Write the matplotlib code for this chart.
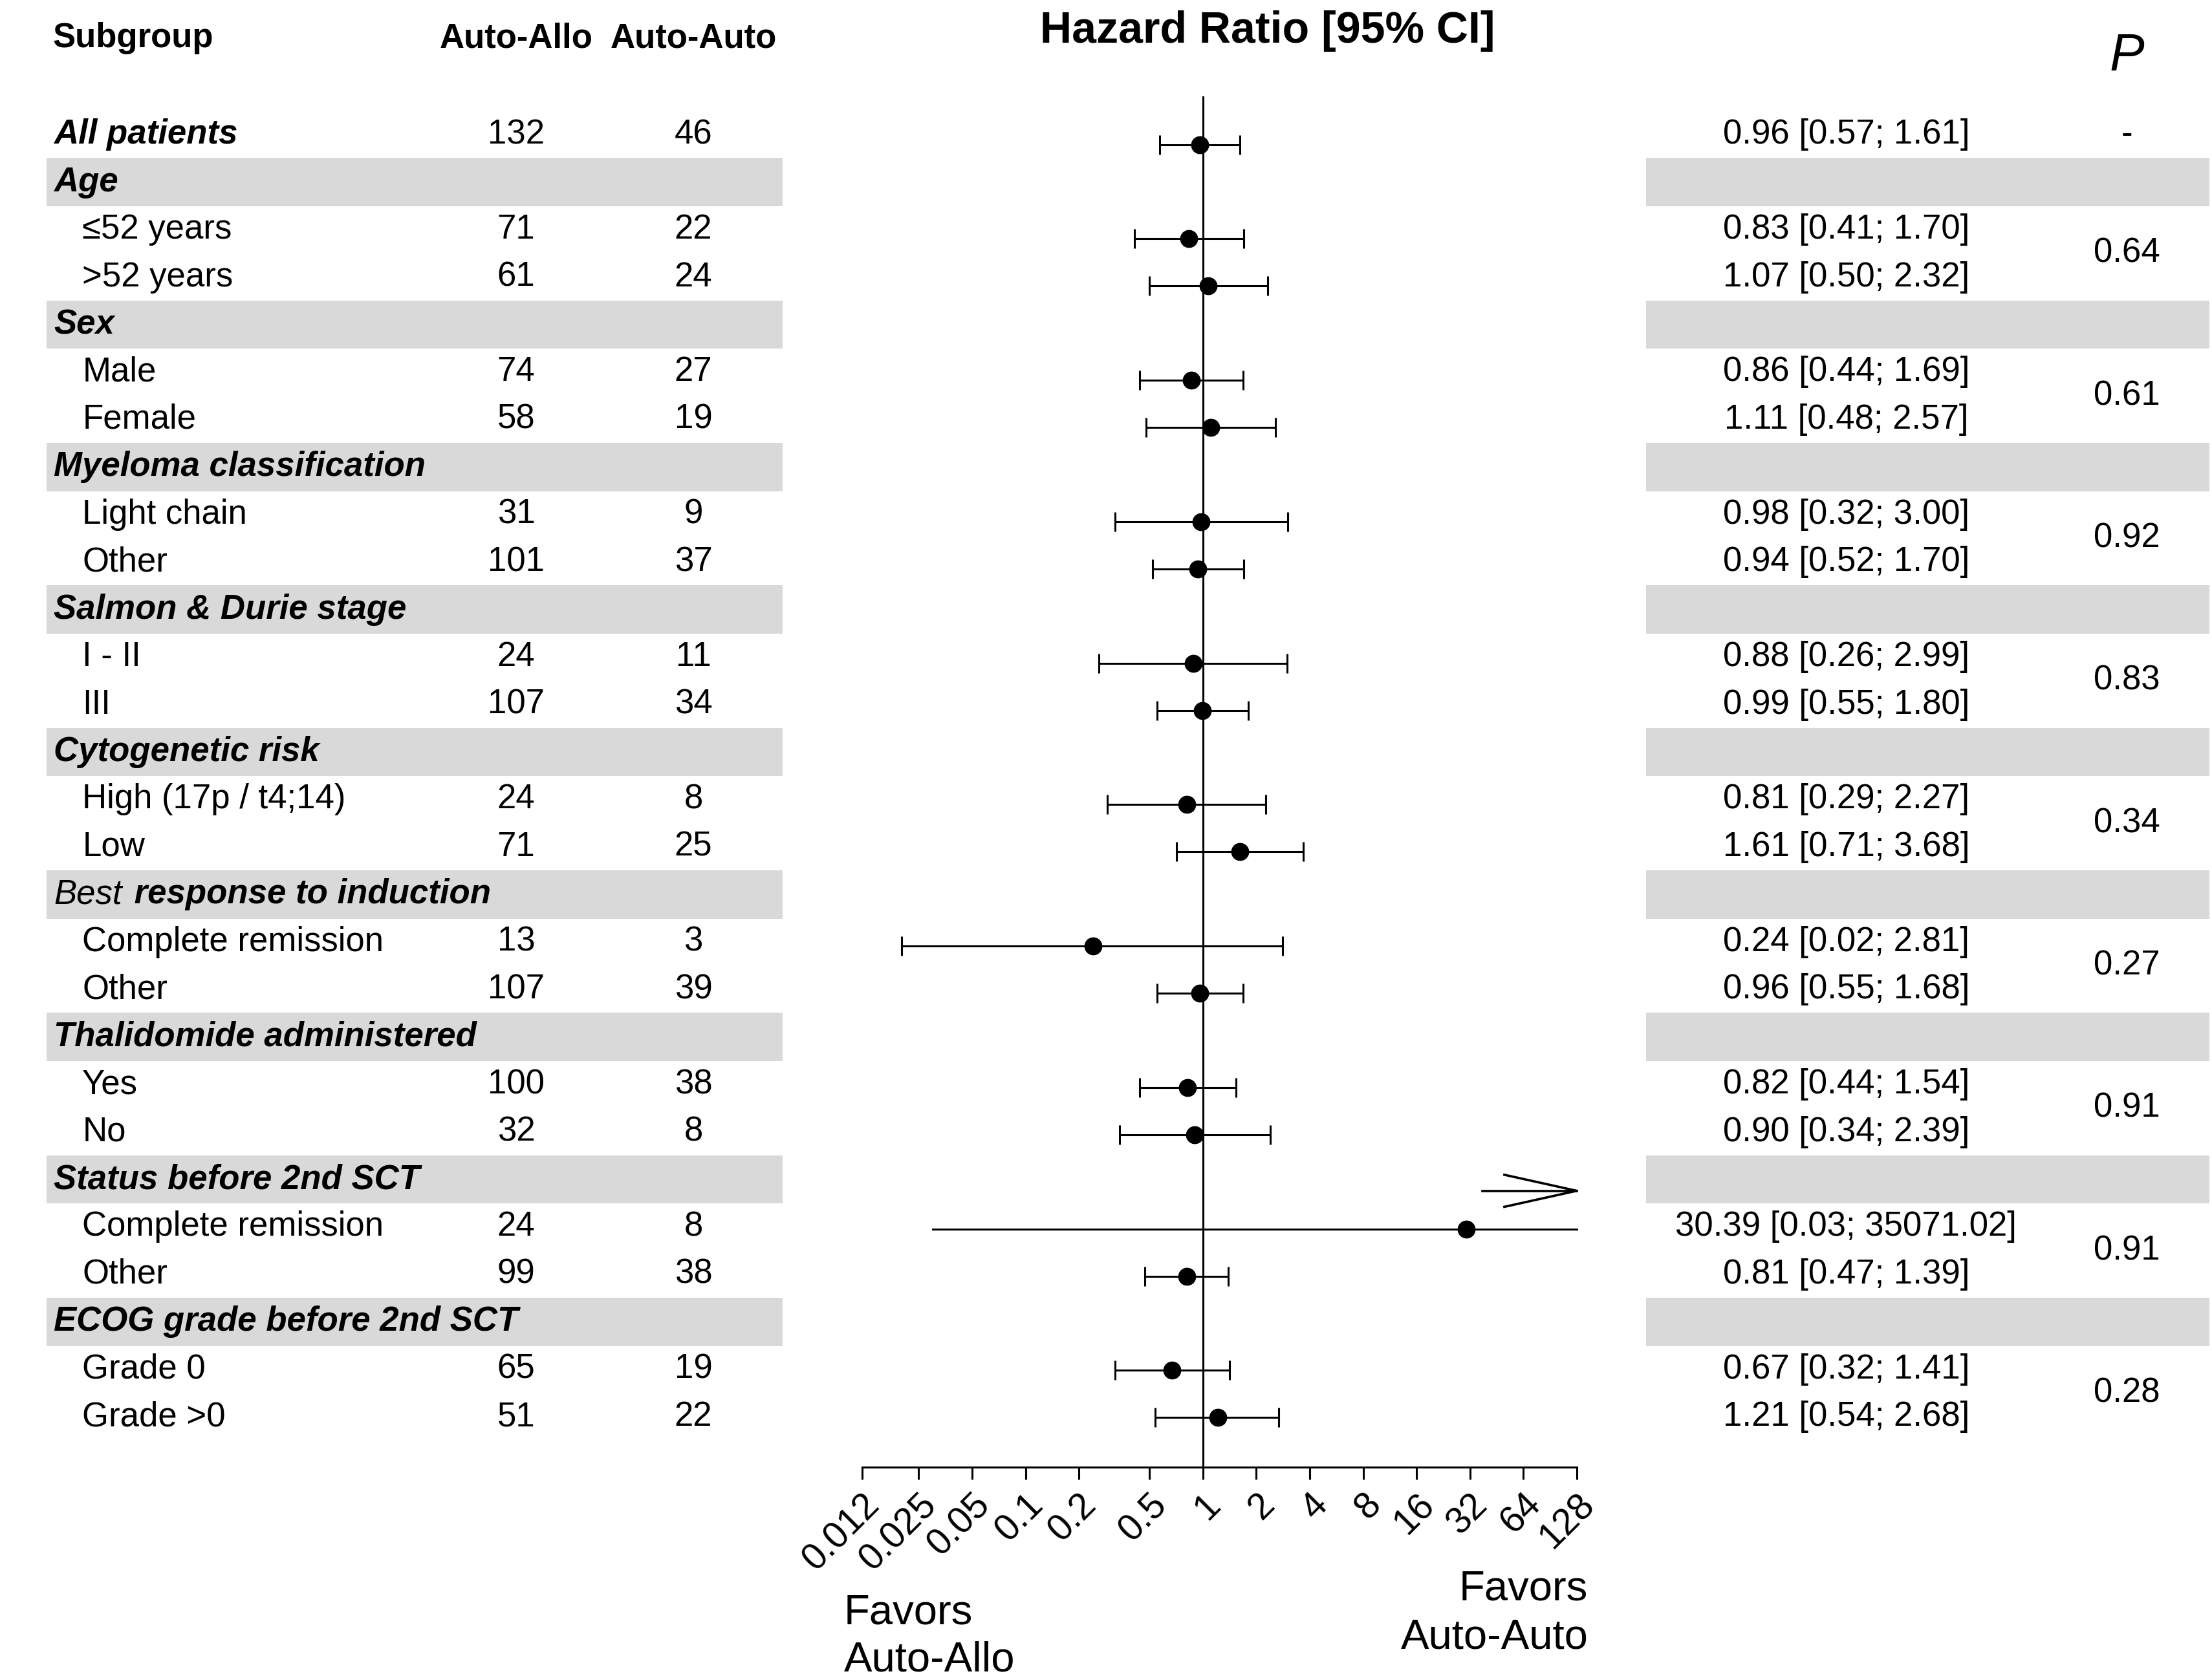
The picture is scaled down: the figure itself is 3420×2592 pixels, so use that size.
import numpy as np
import matplotlib
matplotlib.use('Agg')
import matplotlib.pyplot as plt

plt.rcParams['font.family'] = ['Liberation Sans', 'DejaVu Sans']

# rows of the table: kind 'all' = overall, 'grp' = grey group header, 'sub' = subgroup
labels = ['All patients', 'Age', '≤52 years', '>52 years', 'Sex', 'Male', 'Female',
          'Myeloma classification', 'Light chain', 'Other',
          'Salmon & Durie stage', 'I - II', 'III',
          'Cytogenetic risk', 'High (17p / t4;14)', 'Low',
          'Best response to induction', 'Complete remission', 'Other',
          'Thalidomide administered', 'Yes', 'No',
          'Status before 2nd SCT', 'Complete remission', 'Other',
          'ECOG grade before 2nd SCT', 'Grade 0', 'Grade >0']
kinds = ['all', 'grp', 'sub', 'sub', 'grp', 'sub', 'sub', 'grp', 'sub', 'sub',
         'grp', 'sub', 'sub', 'grp', 'sub', 'sub', 'grp', 'sub', 'sub',
         'grp', 'sub', 'sub', 'grp', 'sub', 'sub', 'grp', 'sub', 'sub']
n_allo = [132, None, 71, 61, None, 74, 58, None, 31, 101, None, 24, 107, None, 24, 71,
          None, 13, 107, None, 100, 32, None, 24, 99, None, 65, 51]
n_auto = [46, None, 22, 24, None, 27, 19, None, 9, 37, None, 11, 34, None, 8, 25,
          None, 3, 39, None, 38, 8, None, 8, 38, None, 19, 22]
hr = [0.96, None, 0.83, 1.07, None, 0.86, 1.11, None, 0.98, 0.94, None, 0.88, 0.99,
      None, 0.81, 1.61, None, 0.24, 0.96, None, 0.82, 0.90, None, 30.39, 0.81,
      None, 0.67, 1.21]
ci_lo = [0.57, None, 0.41, 0.50, None, 0.44, 0.48, None, 0.32, 0.52, None, 0.26, 0.55,
         None, 0.29, 0.71, None, 0.02, 0.55, None, 0.44, 0.34, None, 0.03, 0.47,
         None, 0.32, 0.54]
ci_hi = [1.61, None, 1.70, 2.32, None, 1.69, 2.57, None, 3.00, 1.70, None, 2.99, 1.80,
         None, 2.27, 3.68, None, 2.81, 1.68, None, 1.54, 2.39, None, 35071.02, 1.39,
         None, 1.41, 2.68]
# p value, first row of the pair it belongs to
p_rows = [0, 2, 5, 8, 11, 14, 17, 20, 23, 26]
p_text = ['-', '0.64', '0.61', '0.92', '0.83', '0.34', '0.27', '0.91', '0.91', '0.28']

ticks = [0.012, 0.025, 0.05, 0.1, 0.2, 0.5, 1, 2, 4, 8, 16, 32, 64, 128]
tick_labels = ['0.012', '0.025', '0.05', '0.1', '0.2', '0.5', '1', '2', '4', '8',
               '16', '32', '64', '128']

# layout works in a 1560 wide pixel grid, scaled to the output
W = 1560.0
H = W * 2592 / 3420
FS = 38
GREY = '#d9d9d9'


def row_y(r):
    return 95 + r * 33.5


fig = plt.figure(figsize=(34.2, 25.92), dpi=100)
ax0 = fig.add_axes([0, 0, 1, 1])
ax0.set_xlim(0, W)
ax0.set_ylim(H, 0)
ax0.axis('off')

# column headers
ax0.text(37, 27, 'Subgroup', fontsize=FS, fontweight='bold', ha='left', va='center')
ax0.text(364, 27, 'Auto-Allo', fontsize=FS, fontweight='bold', ha='center', va='center')
ax0.text(489, 27, 'Auto-Auto', fontsize=FS, fontweight='bold', ha='center', va='center')
ax0.text(894, 22, 'Hazard Ratio [95% CI]', fontsize=49, fontweight='bold',
         ha='center', va='center')
ax0.text(1500, 40, 'P', fontsize=58, style='italic', ha='center', va='center')

for r, lab in enumerate(labels):
    y = row_y(r)
    if kinds[r] == 'grp':
        ax0.add_patch(plt.Rectangle((33, y - 17), 519, 34, color=GREY, lw=0, zorder=0))
        ax0.add_patch(plt.Rectangle((1161, y - 17), 397, 34, color=GREY, lw=0, zorder=0))
        if lab.startswith('Best '):
            t1 = ax0.text(38, y, 'Best', fontsize=FS, style='italic',
                          ha='left', va='center')
            ax0.annotate(lab[4:], xy=(1, 0), xycoords=t1, xytext=(3, 0),
                         textcoords='offset points', fontsize=FS, style='italic',
                         fontweight='bold', ha='left', va='bottom')
        else:
            ax0.text(38, y, lab, fontsize=FS, style='italic', fontweight='bold',
                     ha='left', va='center')
        continue
    if kinds[r] == 'all':
        ax0.text(38, y, lab, fontsize=FS, style='italic', fontweight='bold',
                 ha='left', va='center')
    else:
        ax0.text(58, y, lab, fontsize=FS, ha='left', va='center')
    ax0.text(364, y, str(n_allo[r]), fontsize=FS, ha='center', va='center')
    ax0.text(489, y, str(n_auto[r]), fontsize=FS, ha='center', va='center')
    ax0.text(1302, y, '%.2f [%.2f; %.2f]' % (hr[r], ci_lo[r], ci_hi[r]),
             fontsize=FS, ha='center', va='center')

for r, p in zip(p_rows, p_text):
    y = row_y(r) if kinds[r] == 'all' else (row_y(r) + row_y(r + 1)) / 2
    ax0.text(1500, y, p, fontsize=FS, ha='center', va='center')

ax0.text(595, 1138, 'Favors', fontsize=47, ha='left', va='center')
ax0.text(595, 1171, 'Auto-Allo', fontsize=47, ha='left', va='center')
ax0.text(1120, 1121, 'Favors', fontsize=47, ha='right', va='center')
ax0.text(1120, 1155, 'Auto-Auto', fontsize=47, ha='right', va='center')

# forest plot
x0, x1, top, bot = 608, 1112, 68, 1035
ax = fig.add_axes([x0 / W, 1 - bot / H, (x1 - x0) / W, (bot - top) / H])
ax.set_facecolor('none')
xmin, xmax = ticks[0], ticks[-1]
m0, dm = 102, 33.26
ax.set_xscale('log')
ax.set_xlim(xmin, xmax)
ax.set_ylim((bot - m0) / dm, (top - m0) / dm)
for s in ['top', 'left', 'right']:
    ax.spines[s].set_visible(False)
ax.spines['bottom'].set_linewidth(2.2)
ax.set_yticks([])
ax.set_xticks(ticks)
ax.set_xticklabels(tick_labels, rotation=45, ha='right', rotation_mode='anchor',
                   fontsize=41)
ax.minorticks_off()
ax.tick_params(axis='x', length=14, width=2.2, pad=8)
ax.axvline(1, color='black', lw=2.2, zorder=1)

for r in range(len(labels)):
    if hr[r] is None:
        continue
    if ci_hi[r] > xmax:
        ax.plot([ci_lo[r], xmax], [r, r], color='black', lw=2.2, clip_on=False)
        ya = r - 0.81
        ax.plot([xmax / 3.4, xmax], [ya, ya], color='black', lw=2.6, clip_on=False)
        ax.plot([xmax / 2.56, xmax, xmax / 2.56], [ya - 0.34, ya, ya + 0.34],
                color='black', lw=2.6, clip_on=False)
    else:
        ax.errorbar([hr[r]], [r], xerr=[[hr[r] - ci_lo[r]], [ci_hi[r] - hr[r]]],
                    fmt='none', ecolor='black', elinewidth=2.2, capsize=11,
                    capthick=2.2)
    ax.plot([hr[r]], [r], 'o', color='black', ms=19, zorder=3)

fig.savefig('out.png', dpi=100)
